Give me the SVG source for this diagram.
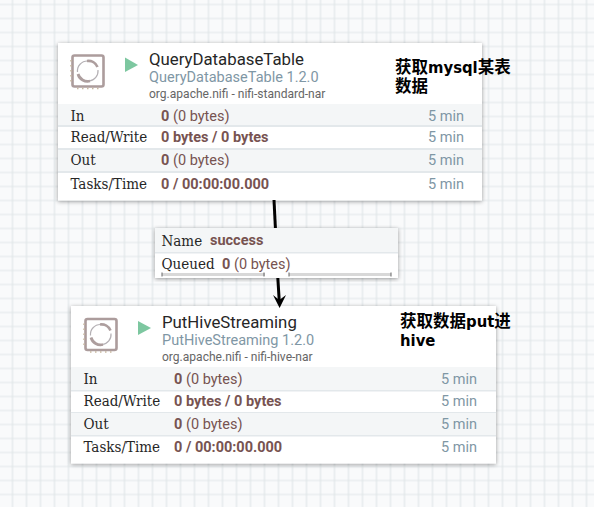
<svg xmlns="http://www.w3.org/2000/svg" width="594" height="507" viewBox="0 0 594 507">
<defs>
<pattern id="grid" width="14" height="14" patternUnits="userSpaceOnUse" x="5.5" y="11.5">
<rect width="14" height="14" fill="#f9fafb"/>
<path d="M7 0V14M0 7H14" stroke="#e1e6e9" stroke-width="1.200"/>
</pattern>
<filter id="sh" x="-5%" y="-5%" width="110%" height="112%"><feDropShadow dx="0" dy="1" stdDeviation="2" flood-color="#000" flood-opacity="0.4"/></filter>
<g id="cpu">
<rect x="1.5" y="1.5" width="31" height="31" rx="2" fill="#fff" stroke="#ac9c9c" stroke-width="2.6"/>
<path d="M0 6V30M6 34.500H30" stroke="#c8b8a0" stroke-width="1.500" stroke-dasharray="1.500 3.500" fill="none"/>
<path d="M6.500 18A10 10 0 0 1 16.500 7" fill="none" stroke="#b4b0b4" stroke-width="1.200"/>
<path d="M16 7A10 10 0 0 1 26.500 13" fill="none" stroke="#ad9e9e" stroke-width="2.600"/>
<path d="M27 16A10 10 0 0 1 18 27" fill="none" stroke="#b4b0b4" stroke-width="1.200"/>
<path d="M19 27A10 10 0 0 1 7 20" fill="none" stroke="#ad9e9e" stroke-width="2.800"/>
</g>
</defs>
<style>
.card{fill:#fff}
.band{fill:#f4f6f7}
.sep{fill:#e3e8eb}
.title{font:16.800px Roboto,sans-serif;fill:#262626}
.type{font:14.500px Roboto,sans-serif;fill:#7f97a5}
.bundle{font:12.050px Roboto,sans-serif;fill:#666}
.lbl{font:15px "DejaVu Serif Condensed","Liberation Serif",serif;fill:#262626}
.val{font:14.500px Roboto,sans-serif;fill:#775351}
.b{font-weight:700}
.min{font:14.500px Roboto,sans-serif;fill:#7f97a5;text-anchor:end}
.note{font:bold 16.500px "DejaVu Sans Condensed","Noto Sans CJK SC",sans-serif;fill:#000}
</style>
<rect width="594" height="507" fill="url(#grid)"/>

<g id="node-query">
<rect class="card" x="58" y="43" width="424" height="157.500" filter="url(#sh)"/>
<rect class="band" x="58" y="104" width="424" height="21"/>
<rect class="sep" x="58" y="125" width="424" height="2"/>
<rect class="sep" x="58" y="148" width="424" height="2"/>
<rect class="band" x="58" y="150" width="424" height="21"/>
<rect class="sep" x="58" y="171" width="424" height="2"/>
<use href="#cpu" x="71" y="54"/>
<path d="M125 57.500L138 65L125 72Z" fill="#7dc7a0"/>
<text class="title" x="149" y="65">QueryDatabaseTable</text>
<text class="type" x="149" y="82">QueryDatabaseTable 1.2.0</text>
<text class="bundle" x="149" y="98">org.apache.nifi - nifi-standard-nar</text>
<text class="lbl" x="70.500" y="121">In</text>
<text class="val" x="161" y="121"><tspan class="b">0</tspan> (0 bytes)</text>
<text class="min" x="464" y="121">5 min</text>
<text class="lbl" x="70.500" y="142">Read/Write</text>
<text class="val b" x="161" y="142">0 bytes / 0 bytes</text>
<text class="min" x="464" y="142">5 min</text>
<text class="lbl" x="70.500" y="165">Out</text>
<text class="val" x="161" y="165"><tspan class="b">0</tspan> (0 bytes)</text>
<text class="min" x="464" y="165">5 min</text>
<text class="lbl" x="70.500" y="189">Tasks/Time</text>
<text class="val b" x="161" y="189">0 / 00:00:00.000</text>
<text class="min" x="464" y="189">5 min</text>
<text class="note" x="395" y="73">获取mysql某表</text>
<text class="note" x="395" y="92">数据</text>
</g>

<g id="node-hive">
<rect class="card" x="71" y="306" width="425" height="157.500" filter="url(#sh)"/>
<rect class="band" x="71" y="367" width="425" height="23"/>
<rect class="sep" x="71" y="390" width="425" height="1.500"/>
<rect class="sep" x="71" y="412" width="425" height="1.500"/>
<rect class="band" x="71" y="413" width="425" height="22"/>
<rect class="sep" x="71" y="435" width="425" height="1.500"/>
<use href="#cpu" x="84" y="317.500"/>
<path d="M138 321L151 328L138 335Z" fill="#7dc7a0"/>
<text class="title" x="162" y="328">PutHiveStreaming</text>
<text class="type" x="162" y="345">PutHiveStreaming 1.2.0</text>
<text class="bundle" x="162" y="361">org.apache.nifi - nifi-hive-nar</text>
<text class="lbl" x="83.500" y="384">In</text>
<text class="val" x="174" y="384"><tspan class="b">0</tspan> (0 bytes)</text>
<text class="min" x="477" y="384">5 min</text>
<text class="lbl" x="83.500" y="406">Read/Write</text>
<text class="val b" x="174" y="406">0 bytes / 0 bytes</text>
<text class="min" x="477" y="406">5 min</text>
<text class="lbl" x="83.500" y="429">Out</text>
<text class="val" x="174" y="429"><tspan class="b">0</tspan> (0 bytes)</text>
<text class="min" x="477" y="429">5 min</text>
<text class="lbl" x="83.500" y="452">Tasks/Time</text>
<text class="val b" x="174" y="452">0 / 00:00:00.000</text>
<text class="min" x="477" y="452">5 min</text>
<text class="note" x="400" y="327">获取数据put进</text>
<text class="note" x="400" y="346">hive</text>
</g>

<g id="connectors" fill="none" stroke="#000" stroke-width="3">
<path d="M274 200L275.500 230"/>
<path d="M277.700 276L279.200 300"/>
<path d="M273 295L279.600 308L286 295L279.300 300Z" stroke="none" fill="#000"/>
</g>

<g id="node-label">
<rect class="card" x="155" y="228" width="243" height="50" filter="url(#sh)"/>
<rect class="band" x="155" y="228" width="243" height="24"/>
<rect class="sep" x="155" y="252" width="243" height="1.500"/>
<text class="lbl" x="161.500" y="246">Name</text>
<text class="val b" x="210" y="245">success</text>
<text class="lbl" x="161.500" y="269">Queued</text>
<text class="val" x="222" y="269"><tspan class="b">0</tspan> (0 bytes)</text>
<rect x="162" y="273" width="103" height="3" fill="#d8d8d8"/>
<rect x="289" y="273" width="102" height="3" fill="#d8d8d8"/>
<path d="M162 272.500v4M264 272.500v4M289 272.500v4M391 272.500v4" stroke="#666" stroke-width="1"/>
</g>
</svg>
